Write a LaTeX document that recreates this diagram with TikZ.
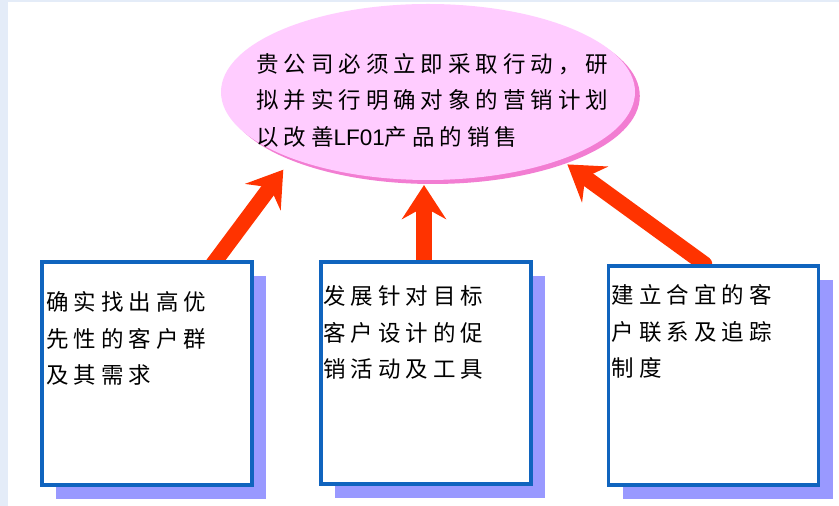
\documentclass[tikz,border=0pt]{standalone}
\usepackage{fontspec}
\newfontfamily\cjk{Noto Sans CJK SC}[LetterSpace=22]
\newfontfamily\latn{Liberation Sans}
\usepackage{tikz}
\usetikzlibrary{shapes.geometric,arrows.meta,positioning,calc,shadows,backgrounds}
\definecolor{framebg}{RGB}{228,236,248}
\definecolor{ovalpink}{RGB}{255,204,255}
\definecolor{ovalshade}{RGB}{242,125,210}
\definecolor{cardblue}{RGB}{16,100,190}
\definecolor{cardshade}{RGB}{153,153,255}
\definecolor{arrowred}{RGB}{255,51,0}

\begin{document}
\begin{tikzpicture}[
    oval/.style={ellipse, fill=ovalpink, minimum width=10.35cm, minimum height=4.4cm,
                 drop shadow={shadow xshift=0.12cm, shadow yshift=-0.1cm, fill=ovalshade, opacity=1}},
    card/.style={rectangle, draw=cardblue, line width=2.8pt, fill=white,
                 minimum width=5.25cm, minimum height=5.57cm,
                 drop shadow={shadow xshift=0.35cm, shadow yshift=-0.35cm, fill=cardshade, opacity=1}},
    txt/.style={font=\cjk\fontsize{16}{26}\selectfont, align=left, inner sep=0pt},
    push/.style={line width=11pt, draw=arrowred,
                 -{Stealth[length=0.85cm, width=1.1cm, inset=0.3cm]}}]
\useasboundingbox (0,0) rectangle (20.975,12.65);
% goal ellipse
\node[oval] (ell) at (10.7,10.35) {};
\node[txt, anchor=north west] (goal) at ($(ell.center)+(-4.3,0.98)$)
  {贵公司必须立即采取行动，研\\拟并实行明确对象的营销计划\\以改善{\latn LF01}产品的销售};
% three action cards
\node[card] (b1) at (3.675,3.3125) {};
\node[card] (b2) at (10.65,3.325) {};
\node[card, minimum height=5.475cm] (b3) at (17.8375,3.2625) {};
\node[txt, below right=0.78cm and 0.15cm of b1.north west] (t1)
  {确实找出高优\\先性的客户群\\及其需求};
\node[txt, below right=0.64cm and 0.1cm of b2.north west] (t2)
  {发展针对目标\\客户设计的促\\销活动及工具};
\node[txt, below right=0.51cm and 0.125cm of b3.north west] (t3)
  {建立合宜的客\\户联系及追踪\\制度};
% arrows sit behind the cards
\coordinate (s1) at ($(b1.north east)+(-1.1,-0.2)$);
\coordinate (s2) at ($(b2.north)+(-0.05,-0.2)$);
\coordinate (s3) at ($(b3.north west)+(2.45,0)$);
\begin{scope}[on background layer]
\fill[white] (0,0) rectangle (20.975,12.65);
\fill[framebg] (0,0) rectangle (0.2,12.65);
\fill[framebg] (0,12.6) rectangle (20.975,12.65);
\draw[push, shorten >=0.35cm] (s1) -- (ell.206);
\draw[push, shorten >=0.12cm] (s2) -- (s2 |- ell.south);
\draw[push, line cap=round, shorten >=0.2cm] (s3) -- (ell.333);
\end{scope}
\end{tikzpicture}
\end{document}
